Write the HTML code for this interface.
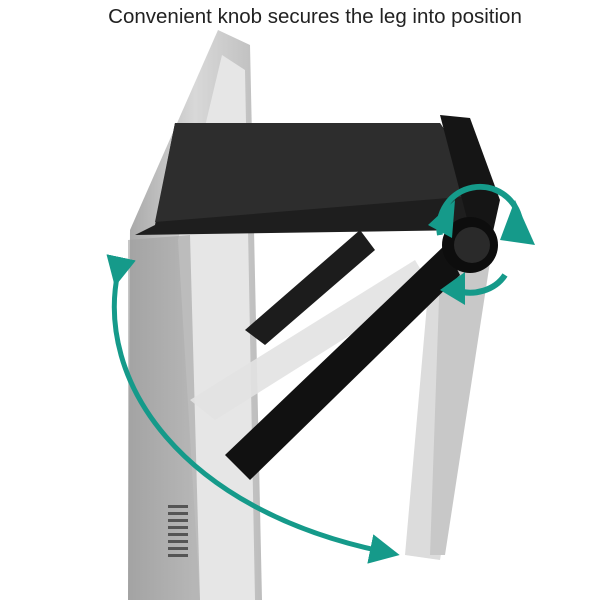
<!DOCTYPE html>
<html><head><meta charset="utf-8"><style>
html,body{margin:0;padding:0;background:#fff;width:600px;height:600px;overflow:hidden}
.t{position:absolute;top:5px;left:0;width:630px;text-align:center;font-family:"Liberation Sans",sans-serif;font-size:20.5px;color:#222}
</style></head><body>
<svg width="600" height="600" style="position:absolute;left:0;top:0">
<defs>
<linearGradient id="tv" x1="0" x2="1"><stop offset="0" stop-color="#a8a8a8"/><stop offset="0.5" stop-color="#d8d8d8"/><stop offset="1" stop-color="#bdbdbd"/></linearGradient>
<marker id="ah" markerWidth="6" markerHeight="6" refX="3" refY="3" orient="auto"><path d="M0,0 L6,3 L0,6z" fill="#159a8a"/></marker>
</defs>
<!-- TV -->
<polygon points="218,30 250,45 262,600 128,600 130,230" fill="url(#tv)"/>
<polygon points="222,55 245,70 255,600 200,600 178,240" fill="#e6e6e6"/>
<polygon points="128,240 190,235 200,600 128,600" fill="#a0a0a0" opacity="0.6"/>
<g fill="#555"><rect x="168" y="505" width="20" height="3"/><rect x="168" y="512" width="20" height="3"/><rect x="168" y="519" width="20" height="3"/><rect x="168" y="526" width="20" height="3"/><rect x="168" y="533" width="20" height="3"/><rect x="168" y="540" width="20" height="3"/><rect x="168" y="547" width="20" height="3"/><rect x="168" y="554" width="20" height="3"/></g>
<!-- ghost leg -->
<polygon points="190,400 215,420 430,285 415,260" fill="#e2e2e2" opacity="0.9"/>
<polygon points="430,270 490,260 440,560 405,555" fill="#dcdcdc"/>
<polygon points="440,270 490,262 445,555 430,555" fill="#c8c8c8"/>
<!-- black legs -->
<polygon points="245,330 265,345 375,250 360,230" fill="#1c1c1c"/>
<polygon points="225,455 250,480 460,275 445,245" fill="#111"/>
<!-- shelf -->
<polygon points="175,123 440,123 490,195 470,230 135,235 155,225" fill="#1e1e1e"/>
<polygon points="175,123 440,123 485,195 155,222" fill="#2d2d2d"/>
<polygon points="440,115 470,118 500,200 490,245 470,230" fill="#151515"/>
<circle cx="470" cy="245" r="28" fill="#0d0d0d"/>
<circle cx="472" cy="245" r="18" fill="#2a2a2a"/>
<!-- arrows -->
<path d="M118,272 C95,380 180,510 385,552" fill="none" stroke="#159a8a" stroke-width="5" marker-end="url(#ah)" marker-start="url(#ah)"/>
<path d="M440,235 A38,38 0 0 1 520,220" fill="none" stroke="#159a8a" stroke-width="6"/>
<polygon points="515,200 535,245 500,240" fill="#159a8a"/>
<polygon points="428,225 455,200 452,238" fill="#159a8a"/>
<path d="M505,275 A40,35 0 0 1 455,290" fill="none" stroke="#159a8a" stroke-width="6"/>
<polygon points="440,290 465,272 465,305" fill="#159a8a"/>
</svg>
<div class="t">Convenient knob secures the leg into position</div>
</body></html>
